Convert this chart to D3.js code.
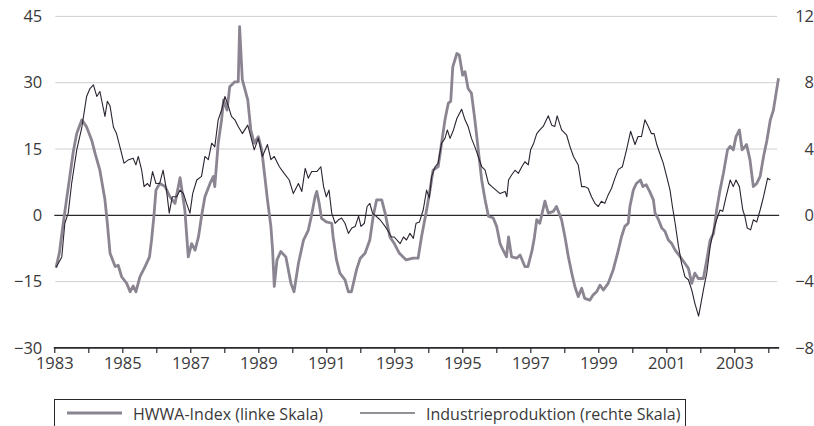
<!DOCTYPE html>
<html>
<head>
<meta charset="utf-8">
<script src="https://cdn.jsdelivr.net/npm/d3@7"></script>
<style>
  html, body { margin: 0; padding: 0; background: #ffffff; }
  svg { display: block; }
  text { font-family: "Open Sans", "Noto Sans", sans-serif; fill: #3a3a3a; }
</style>
</head>
<body>
<svg id="chart" width="814" height="426"></svg>
<script>
// ---------- data ----------
const xTickYears = d3.range(1983, 2005);               // yearly ticks
const xLabelYears = [1983,1985,1987,1989,1991,1993,1995,1997,1999,2001,2003];
const leftTicks  = [-30, -15, 0, 15, 30, 45];
const rightTicks = [-8, -4, 0, 4, 8, 12];
const legendLabels = ["HWWA-Index (linke Skala)", "Industrieproduktion (rechte Skala)"];

// HWWA-Index, % change vs. previous year (left scale): [year, value]
const hwwaSeries = [
  [1983.05,-11.8],[1983.15,-8.5],[1983.25,-2.5],[1983.35,3.0],[1983.46,9.0],[1983.56,14.5],[1983.66,18.5],[1983.81,21.6],[1983.95,20.0],
  [1984.10,17.0],[1984.20,14.0],[1984.34,10.2],[1984.49,3.5],[1984.56,-1.8],[1984.64,-8.6],[1984.79,-11.6],[1984.88,-11.3],[1984.98,-13.9],
  [1985.13,-15.4],[1985.23,-17.3],[1985.32,-16.0],[1985.40,-17.3],[1985.52,-13.9],[1985.67,-11.6],[1985.80,-9.4],[1985.86,-5.6],[1985.93,-0.2],[1985.99,5.7],
  [1986.10,7.2],[1986.26,6.5],[1986.40,4.2],[1986.55,2.7],[1986.70,8.5],[1986.84,1.2],[1986.94,-9.4],
  [1987.04,-6.4],[1987.14,-7.9],[1987.24,-4.9],[1987.33,-0.2],[1987.43,4.2],[1987.58,7.2],[1987.68,8.8],[1987.72,6.5],[1987.82,16.3],[1987.92,21.6],[1987.98,26.1],
  [1988.08,23.8],[1988.16,29.1],[1988.31,30.2],[1988.41,30.2],[1988.45,42.7],[1988.53,30.7],[1988.69,26.1],[1988.78,19.3],[1988.88,16.3],
  [1989.00,17.8],[1989.10,14.8],[1989.17,10.2],[1989.27,3.5],[1989.37,-2.5],[1989.42,-7.8],[1989.47,-16.1],[1989.55,-10.1],[1989.66,-8.2],[1989.81,-9.4],[1989.96,-15.4],
  [1990.05,-17.3],[1990.18,-10.9],[1990.33,-5.6],[1990.47,-3.4],[1990.56,-0.2],[1990.67,4.2],[1990.72,5.4],[1990.79,2.7],[1990.86,-0.7],
  [1991.00,-1.5],[1991.16,-1.8],[1991.20,-4.9],[1991.30,-10.1],[1991.40,-13.1],[1991.55,-14.6],[1991.65,-17.3],[1991.74,-17.3],[1991.89,-12.3],
  [1992.00,-9.7],[1992.14,-8.6],[1992.28,-5.6],[1992.38,-0.2],[1992.48,3.5],[1992.63,3.5],[1992.73,0.5],[1992.87,-4.9],
  [1993.00,-6.4],[1993.15,-8.6],[1993.35,-10.1],[1993.55,-9.7],[1993.70,-9.7],[1993.80,-4.9],[1993.95,1.2],
  [1994.05,5.7],[1994.14,10.2],[1994.29,11.0],[1994.39,16.3],[1994.49,21.6],[1994.59,25.4],[1994.66,25.8],[1994.72,33.6],[1994.84,36.6],[1994.91,36.3],
  [1995.01,31.7],[1995.08,32.5],[1995.17,28.7],[1995.27,27.6],[1995.37,21.6],[1995.47,14.8],[1995.57,8.0],[1995.67,3.5],[1995.77,-0.2],[1995.91,-0.6],
  [1996.01,-2.5],[1996.11,-6.4],[1996.20,-7.9],[1996.30,-9.4],[1996.36,-4.9],[1996.45,-9.4],[1996.60,-9.7],[1996.70,-9.0],[1996.84,-11.6],[1996.93,-11.6],
  [1997.05,-8.0],[1997.12,-5.0],[1997.19,-1.0],[1997.28,-1.8],[1997.43,3.2],[1997.53,0.5],[1997.68,0.9],[1997.77,2.0],[1997.92,-1.0],
  [1998.02,-4.9],[1998.12,-9.4],[1998.22,-13.1],[1998.31,-16.1],[1998.41,-18.4],[1998.51,-16.5],[1998.60,-18.8],[1998.75,-19.2],[1998.85,-18.0],[1998.95,-17.3],
  [1999.05,-15.8],[1999.15,-16.9],[1999.29,-15.4],[1999.44,-12.3],[1999.59,-7.9],[1999.68,-4.9],[1999.78,-2.5],[1999.88,-1.8],[1999.93,2.0],
  [2000.03,5.7],[2000.12,7.2],[2000.24,8.0],[2000.31,6.5],[2000.41,6.9],[2000.51,5.4],[2000.62,3.5],[2000.67,0.5],[2000.77,-1.0],[2000.87,-2.9],[2000.96,-3.6],
  [2001.06,-5.6],[2001.16,-6.4],[2001.26,-7.9],[2001.41,-9.4],[2001.55,-10.9],[2001.65,-12.0],[2001.75,-15.4],[2001.84,-13.1],[2001.94,-14.3],
  [2002.09,-14.3],[2002.19,-10.1],[2002.29,-5.6],[2002.39,-4.1],[2002.48,1.2],[2002.58,5.7],[2002.68,9.5],[2002.80,14.8],[2002.88,15.6],[2002.97,14.8],
  [2003.05,17.8],[2003.15,19.3],[2003.23,14.8],[2003.36,16.0],[2003.46,12.6],[2003.56,6.5],[2003.66,7.2],[2003.76,8.8],[2003.86,13.3],[2003.96,17.0],
  [2004.06,21.6],[2004.15,23.8],[2004.30,31.0]
];

// Industrieproduktion, % change vs. previous year (right scale): [year, value]
const ipSeries = [
  [1983.05,-3.15],[1983.22,-2.51],[1983.31,-0.48],[1983.41,0.13],[1983.51,1.92],[1983.66,3.95],[1983.81,5.31],[1983.95,7.17],
  [1984.05,7.65],[1984.15,7.87],[1984.25,7.17],[1984.34,7.47],[1984.42,6.67],[1984.49,5.97],[1984.56,6.88],[1984.64,6.59],[1984.74,5.31],[1984.83,4.93],[1984.93,4.13],
  [1985.05,3.15],[1985.17,3.33],[1985.32,3.44],[1985.40,3.04],[1985.47,3.55],[1985.57,2.72],[1985.64,1.73],[1985.74,1.92],[1985.81,1.73],[1985.89,2.64],[1985.99,1.92],
  [1986.10,1.92],[1986.20,2.72],[1986.30,1.52],[1986.38,0.13],[1986.47,1.12],[1986.60,1.12],[1986.70,1.52],[1986.80,1.31],[1986.89,0.72],[1986.99,0.13],
  [1987.07,1.31],[1987.19,2.13],[1987.33,2.35],[1987.43,3.55],[1987.53,3.36],[1987.63,4.35],[1987.72,4.13],[1987.82,5.76],[1987.92,6.35],
  [1988.02,7.17],[1988.12,6.59],[1988.21,5.97],[1988.31,5.76],[1988.41,5.36],[1988.53,4.93],[1988.69,5.44],[1988.78,4.75],[1988.88,3.95],
  [1989.00,4.64],[1989.12,3.55],[1989.27,4.27],[1989.37,3.36],[1989.47,3.55],[1989.62,2.93],[1989.76,2.53],[1989.91,2.13],
  [1990.03,1.31],[1990.18,1.92],[1990.28,1.44],[1990.38,2.83],[1990.47,2.24],[1990.57,2.64],[1990.72,2.64],[1990.84,2.93],[1990.92,1.73],
  [1991.00,1.12],[1991.08,1.52],[1991.16,0.13],[1991.26,-0.48],[1991.36,-0.27],[1991.45,-0.16],[1991.55,-0.48],[1991.65,-1.09],[1991.75,-0.77],[1991.85,-0.67],[1991.95,-0.05],
  [1992.02,-0.67],[1992.12,-0.48],[1992.20,0.53],[1992.28,0.72],[1992.36,0.13],[1992.46,-0.05],[1992.58,-0.27],[1992.73,-0.67],[1992.83,-0.99],[1992.92,-1.31],
  [1993.00,-1.31],[1993.17,-1.71],[1993.27,-1.31],[1993.36,-1.49],[1993.46,-1.09],[1993.56,-1.39],[1993.64,-0.48],[1993.74,-0.40],[1993.85,0.32],[1993.95,1.52],
  [1994.03,1.04],[1994.10,2.35],[1994.20,2.93],[1994.29,3.15],[1994.39,4.35],[1994.49,4.64],[1994.56,5.15],[1994.64,4.64],[1994.74,5.15],[1994.84,5.84],[1994.98,6.40],
  [1995.08,5.76],[1995.17,5.36],[1995.27,4.64],[1995.37,4.13],[1995.47,3.55],[1995.57,2.93],[1995.67,2.72],[1995.77,1.92],[1995.87,1.73],[1995.99,1.52],
  [1996.11,1.31],[1996.26,1.44],[1996.31,1.12],[1996.36,2.13],[1996.45,2.43],[1996.55,2.72],[1996.65,2.53],[1996.75,2.93],[1996.84,3.23],[1996.94,3.04],
  [1997.01,3.95],[1997.10,4.35],[1997.19,4.93],[1997.28,5.15],[1997.38,5.36],[1997.53,6.00],[1997.63,5.44],[1997.72,5.36],[1997.79,6.00],[1997.92,5.15],
  [1998.07,4.83],[1998.17,4.13],[1998.27,3.55],[1998.41,3.04],[1998.51,1.73],[1998.60,1.73],[1998.70,1.63],[1998.80,1.12],[1998.90,0.72],
  [1999.00,0.53],[1999.09,0.85],[1999.19,0.72],[1999.29,1.23],[1999.39,1.63],[1999.49,2.24],[1999.59,2.77],[1999.71,2.93],[1999.83,3.95],[1999.95,5.07],
  [2000.08,4.27],[2000.17,4.75],[2000.27,4.75],[2000.37,5.76],[2000.47,5.36],[2000.56,4.93],[2000.64,4.93],[2000.72,4.27],[2000.81,3.73],[2000.91,3.15],
  [2001.01,2.35],[2001.11,1.52],[2001.18,0.53],[2001.26,-0.48],[2001.36,-1.89],[2001.45,-2.91],[2001.55,-3.71],[2001.65,-3.89],[2001.75,-4.51],[2001.84,-5.31],[2001.95,-6.08],
  [2002.02,-5.31],[2002.09,-4.51],[2002.19,-3.49],[2002.29,-1.89],[2002.39,-0.91],[2002.48,-0.27],[2002.58,0.32],[2002.66,0.24],[2002.76,1.12],[2002.88,2.13],[2002.97,1.73],
  [2003.05,2.13],[2003.15,1.73],[2003.25,0.32],[2003.31,-0.05],[2003.38,-0.77],[2003.48,-0.88],[2003.56,-0.27],[2003.66,-0.40],[2003.76,0.32],[2003.86,1.12],[2003.98,2.24],
  [2004.06,2.13]
];

// ---------- scales ----------
const svg = d3.select("#chart");
const x = d3.scaleLinear().domain([1983, 2004]).range([54.3, 768.3]);
const yL = d3.scaleLinear().domain([-30, 45]).range([347.9, 16.4]);
const yR = d3.scaleLinear().domain([-8, 12]).range([347.9, 16.4]);
const xEnd = 2004.32;
const fmt = d3.format("d");

// ---------- grid lines ----------
svg.append("g").selectAll("line")
  .data(leftTicks.filter(d => d !== 0 && d !== -30))
  .join("line")
  .attr("x1", x(1983) + 1).attr("x2", x(xEnd) - 2)
  .attr("y1", d => yL(d)).attr("y2", d => yL(d))
  .attr("stroke", "#cfcfd3").attr("stroke-width", 1);

// zero line
svg.append("line")
  .attr("x1", x(1983)).attr("x2", x(xEnd))
  .attr("y1", yL(0)).attr("y2", yL(0))
  .attr("stroke", "#2a2a2e").attr("stroke-width", 1.3);

// ---------- left axis ----------
const gL = svg.append("g").attr("transform", `translate(${x(1983)},0)`)
  .call(d3.axisLeft(yL).tickValues(leftTicks).tickSize(0).tickPadding(12).tickFormat(fmt));
gL.select(".domain").remove();
gL.selectAll("text").style("font-size", "16.5px").attr("fill", "#3a3a3a");

// ---------- right axis ----------
const gR = svg.append("g").attr("transform", `translate(790,0)`)
  .call(d3.axisRight(yR).tickValues(rightTicks).tickSize(0).tickPadding(0).tickFormat(fmt));
gR.select(".domain").remove();
gR.selectAll("text").style("font-size", "16.5px").attr("fill", "#3a3a3a")
  .attr("text-anchor", "end").attr("x", 24);

// ---------- bottom axis ----------
const gB = svg.append("g").attr("transform", `translate(0,${yL(-30)})`)
  .call(d3.axisBottom(x).tickValues(xTickYears).tickSize(5).tickPadding(4)
    .tickFormat(d => xLabelYears.includes(d) ? fmt(d) : ""));
gB.select(".domain").remove();
gB.selectAll(".tick line").attr("stroke", "#2a2a2e").attr("stroke-width", 1.2);
gB.selectAll("text").style("font-size", "16.5px").attr("fill", "#3a3a3a");
gB.append("line")
  .attr("x1", x(1983) - 0.5).attr("x2", x(xEnd))
  .attr("y1", 0).attr("y2", 0)
  .attr("stroke", "#2a2a2e").attr("stroke-width", 1.6);

// ---------- series ----------
const lineL = d3.line().x(d => x(d[0])).y(d => yL(d[1]));
const lineR = d3.line().x(d => x(d[0])).y(d => yR(d[1]));

svg.append("path").datum(hwwaSeries)
  .attr("d", lineL)
  .attr("fill", "none")
  .attr("stroke", "#8b8491")
  .attr("stroke-width", 2.8)
  .attr("stroke-linejoin", "round");

svg.append("path").datum(ipSeries)
  .attr("d", lineR)
  .attr("fill", "none")
  .attr("stroke", "#2b2330")
  .attr("stroke-width", 1.1)
  .attr("stroke-linejoin", "round");

// ---------- legend ----------
const leg = svg.append("g");
leg.append("rect")
  .attr("x", 54.5).attr("y", 399.5).attr("width", 631).attr("height", 40)
  .attr("fill", "none").attr("stroke", "#2a2a2e").attr("stroke-width", 1);
leg.append("line").attr("x1", 67).attr("x2", 122).attr("y1", 413).attr("y2", 413)
  .attr("stroke", "#8b8491").attr("stroke-width", 2.8);
leg.append("text").attr("x", 133).attr("y", 419.5).style("font-size", "16px").text(legendLabels[0]);
leg.append("line").attr("x1", 360).attr("x2", 415).attr("y1", 413).attr("y2", 413)
  .attr("stroke", "#2b2330").attr("stroke-width", 1.1);
leg.append("text").attr("x", 426).attr("y", 419.5).style("font-size", "16px").text(legendLabels[1]);
</script>
</body>
</html>
